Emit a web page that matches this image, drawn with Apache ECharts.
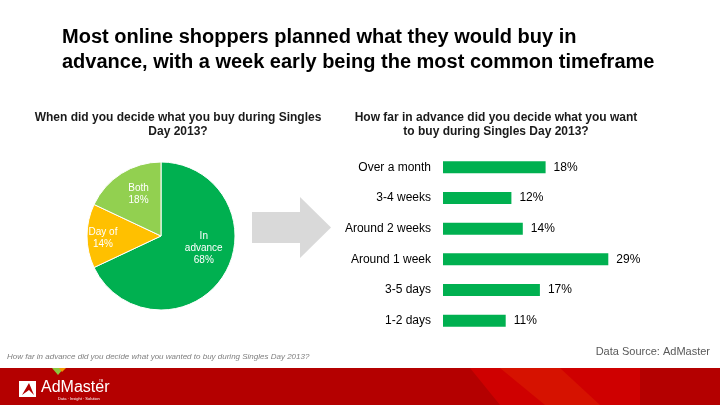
<!DOCTYPE html>
<html>
<head>
<meta charset="utf-8">
<script src="https://cdn.jsdelivr.net/npm/echarts@6/dist/echarts.min.js"></script>
<style>
  html, body { margin: 0; padding: 0; background: #fff; }
  #main { width: 720px; height: 405px; }
</style>
</head>
<body>
<div id="main"></div>
<script>
// pie data
var pieNames = ['In\nadvance', 'Day of', 'Both'];
var pieValues = [68, 14, 18];
var pieColors = ['#00b050', '#ffc000', '#92d050'];

// bar data
var barCats = ['Over a month', '3-4 weeks', 'Around 2 weeks', 'Around 1 week', '3-5 days', '1-2 days'];
var barValues = [18, 12, 14, 29, 17, 11];

var font = '"Liberation Sans", Arial, sans-serif';

var myChart = echarts.init(document.getElementById('main'));

// label nudges to sit like the original slide
var pieOffsets = [[9, -9], [-18, 2], [-1, -8]];

var pieData = [];
for (var i = 0; i < pieValues.length; i++) {
    pieData.push({
        name: pieNames[i],
        value: pieValues[i],
        itemStyle: { color: pieColors[i] },
        label: { offset: pieOffsets[i] }
    });
}

var option = {
    backgroundColor: '#fff',
    animation: false,
    title: [
        {
            text: 'Most online shoppers planned what they would buy in\nadvance, with a week early being the most common timeframe',
            left: 57, top: 20,
            textStyle: { fontFamily: font, fontSize: 20, fontWeight: 'bold', color: '#000', lineHeight: 25 }
        },
        {
            text: 'When did you decide what you buy during Singles\nDay 2013?',
            left: 173, top: 106, textAlign: 'center',
            textStyle: { fontFamily: font, fontSize: 12, fontWeight: 'bold', color: '#1a1a1a', lineHeight: 14, align: 'center' }
        },
        {
            text: 'How far in advance did you decide what you want\nto buy during Singles Day 2013?',
            left: 491, top: 106, textAlign: 'center',
            textStyle: { fontFamily: font, fontSize: 12, fontWeight: 'bold', color: '#1a1a1a', lineHeight: 14, align: 'center' }
        }
    ],
    grid: { left: 443, top: 152, width: 171, height: 184 },
    xAxis: {
        type: 'value', min: 0, max: 30,
        show: false
    },
    yAxis: {
        type: 'category',
        data: barCats,
        inverse: true,
        axisLine: { show: false },
        axisTick: { show: false },
        axisLabel: { fontFamily: font, fontSize: 12, color: '#000', margin: 12 }
    },
    series: [
        {
            type: 'pie',
            center: [161, 236],
            radius: [0, 74],
            startAngle: 90,
            clockwise: true,
            itemStyle: { borderColor: '#fff', borderWidth: 1 },
            label: {
                show: true,
                position: 'inside',
                formatter: '{b}\n{c}%',
                fontFamily: font,
                fontSize: 10,
                lineHeight: 12,
                color: '#fff'
            },
            labelLine: { show: false },
            data: pieData
        },
        {
            type: 'bar',
            data: barValues,
            barWidth: 12,
            itemStyle: { color: '#00b050' },
            label: {
                show: true,
                position: 'right',
                distance: 8,
                formatter: '{c}%',
                fontFamily: font,
                fontSize: 12,
                color: '#000'
            }
        }
    ],
    graphic: [
        // grey arrow
        {
            type: 'polygon',
            shape: { points: [[252, 212], [300, 212], [300, 197], [331, 227.5], [300, 258], [300, 243], [252, 243]] },
            style: { fill: '#d9d9d9' }
        },
        // footnote
        {
            type: 'text', left: 7, top: 353,
            style: { text: 'How far in advance did you decide what you wanted to buy during Singles Day 2013?', font: 'italic 8px ' + font, fill: '#7f7f7f' }
        },
        {
            type: 'text', right: 10, top: 346,
            style: { text: 'Data Source: AdMaster', font: '11px ' + font, fill: '#595959' }
        },
        // footer band
        {
            type: 'rect', shape: { x: 0, y: 368, width: 720, height: 37 },
            style: { fill: '#b40000' }
        },
        {
            type: 'polygon',
            shape: { points: [[470, 368], [640, 368], [640, 405], [500, 405]] },
            style: { fill: '#cf0000' }
        },
        {
            type: 'polygon',
            shape: { points: [[500, 368], [560, 368], [600, 405], [545, 405]] },
            style: { fill: '#d81a00', opacity: 0.7 }
        },
        // logo
        {
            type: 'polygon',
            shape: { points: [[52, 368], [58, 375], [64, 368]] },
            style: { fill: '#8cc63f' }
        },
        {
            type: 'polygon',
            shape: { points: [[59, 368], [62, 372], [66, 368]] },
            style: { fill: '#f39800' }
        },
        {
            type: 'rect', shape: { x: 19, y: 381, width: 17, height: 16 },
            style: { fill: '#fff' }
        },
        {
            type: 'polygon',
            shape: { points: [[22, 395], [29, 383], [34, 395], [29, 390]] },
            style: { fill: '#b40000' }
        },
        {
            type: 'text', left: 41, top: 380,
            style: { text: 'AdMaster', font: '16px "Liberation Sans Narrow", ' + font, fill: '#fff' }
        },
        {
            type: 'text', left: 99, top: 380,
            style: { text: 'TM', font: '3px ' + font, fill: '#fff' }
        },
        {
            type: 'text', left: 58, top: 397,
            style: { text: 'Data · Insight · Solution', font: '4px ' + font, fill: '#fff' }
        }
    ]
};

myChart.setOption(option);
</script>
</body>
</html>
